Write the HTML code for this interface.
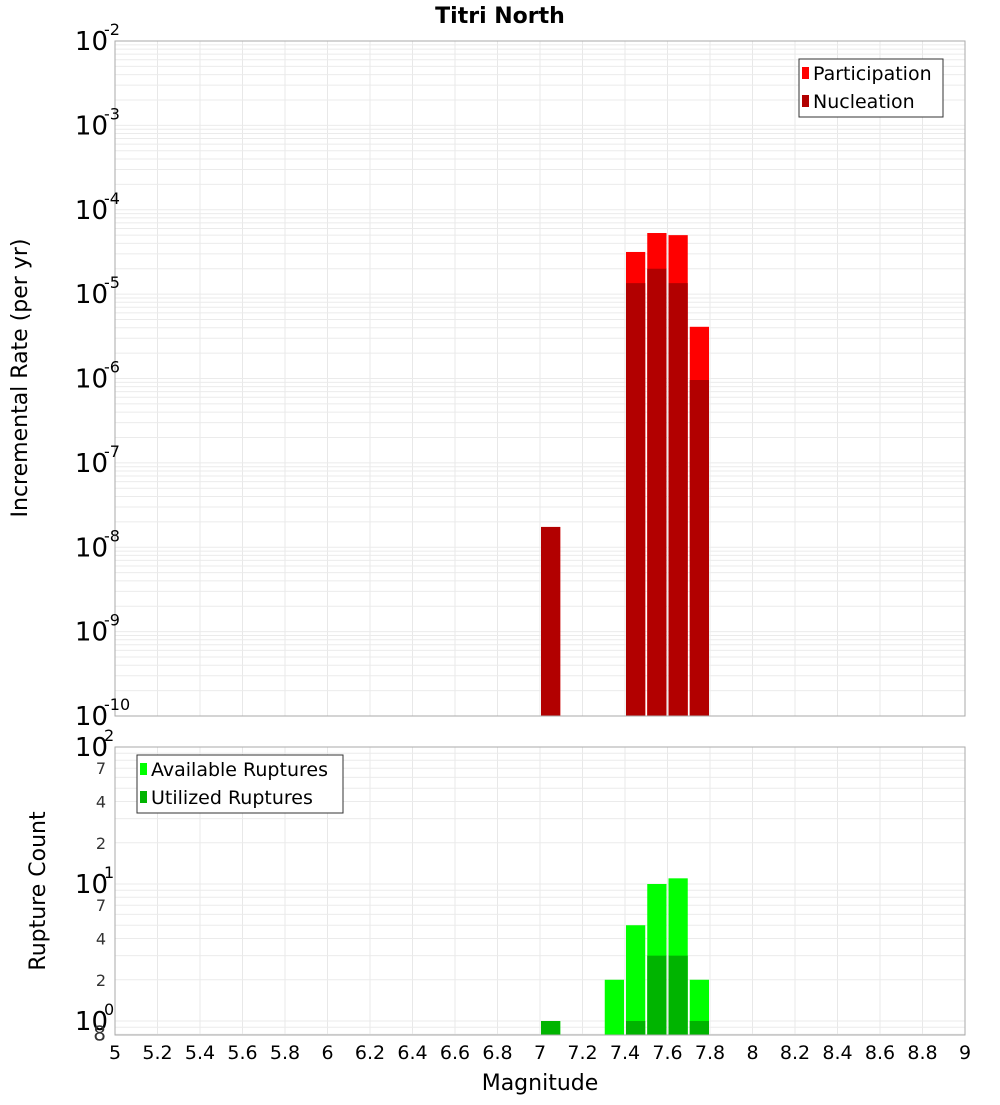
<!DOCTYPE html>
<html><head><meta charset="utf-8"><style>
body{margin:0;background:#fff;font-family:"Liberation Sans","DejaVu Sans",sans-serif}
svg text{font-family:"DejaVu Sans","Liberation Sans",sans-serif}
</style></head><body>
<svg id="c" width="1000" height="1100" xmlns="http://www.w3.org/2000/svg">
<rect width="1000" height="1100" fill="#fff"/>
<text x="500" y="23" text-anchor="middle" font-size="22" font-weight="bold">Titri North</text>
<g id="topPlot"></g>
<g id="botPlot"></g>
<text transform="translate(27,378) rotate(-90)" text-anchor="middle" font-size="22">Incremental Rate (per yr)</text>
<text transform="translate(45,891) rotate(-90)" text-anchor="middle" font-size="22">Rupture Count</text>
<text x="540" y="1090" text-anchor="middle" font-size="22">Magnitude</text>
</svg>
<script>
const rateMags=[7.05,7.45,7.55,7.65,7.75];
const participation=[1.74e-8,3.16e-5,5.3e-5,5.0e-5,4.1e-6];
const nucleation=[1.74e-8,1.35e-5,2.0e-5,1.35e-5,9.6e-7];
const countMags=[7.05,7.35,7.45,7.55,7.65,7.75];
const available=[1,2,5,10,11,2];
const utilized=[1,0,1,3,3,1];
const xTicks=[5,5.2,5.4,5.6,5.8,6,6.2,6.4,6.6,6.8,7,7.2,7.4,7.6,7.8,8,8.2,8.4,8.6,8.8,9];
const NS="http://www.w3.org/2000/svg";
const L=115,R=965;
const X=m=>L+(m-5)/4*(R-L);
const T1=41,B1=716,T2=747,B2=1035;
const Y1=v=>T1+(-2-Math.log10(v))/8*(B1-T1);
const D2=137;
const Y2=v=>T2+(2-Math.log10(v))*D2;
function mk(p,tag,a){const e=document.createElementNS(NS,tag);for(const k in a)e.setAttribute(k,a[k]);p.appendChild(e);return e;}
const gTop=document.getElementById('topPlot'),gBot=document.getElementById('botPlot');
function grid(g,T,B,Y,dmin,dmax,vmin){
  xTicks.forEach(t=>{const l=mk(g,'line',{x1:X(t),x2:X(t),y1:T,y2:B,stroke:'#e8e8e8'});
  
  });
  for(let d=dmin;d<dmax;d++)for(let k=1;k<10;k++){const v=k*Math.pow(10,d);if(v<vmin)continue;const y=Y(v);if(y<T||y>B)continue;
    const l=mk(g,'line',{x1:L,x2:R,y1:y,y2:y,stroke:'#ebebeb'});
    
    }
}
grid(gTop,T1,B1,Y1,-10,-2,1e-10);
grid(gBot,T2,B2,Y2,-1,2,0.8);
const bw=X(0.1)-X(0)-2;
function bars(g,mags,vals,Y,B,col,name){
  mags.forEach((m,i)=>{if(vals[i]<=0)return;const y=Y(vals[i]);
    const r=mk(g,'rect',{x:X(m)-bw/2,y:y,width:bw,height:B-y,fill:col});
    
    });
}
bars(gTop,rateMags,participation,Y1,B1,'#ff0000','participation-bar');
bars(gTop,rateMags,nucleation,Y1,B1,'#b20000','nucleation-bar');
bars(gBot,countMags,available,Y2,B2,'#00ff00','available-bar');
bars(gBot,countMags,utilized,Y2,B2,'#00b400','utilized-bar');
[[gTop,T1,B1],[gBot,T2,B2]].forEach(([g,T,B])=>{const f=mk(g,'rect',{x:L,y:T,width:R-L,height:B-T,fill:'none',stroke:'#aaa'});
  
  });
for(let e=-10;e<=-2;e++){const y=Y1(Math.pow(10,e));
  const t=mk(gTop,'text',{x:108,y:y+9,'text-anchor':'end','font-size':26});
  
  
  t.textContent='10';
  const s=mk(gTop,'text',{x:104,y:y-6,'font-size':16});
  
  
  s.textContent=String(e);}
[0,1,2].forEach(e=>{const y=Y2(Math.pow(10,e));
  const t=mk(gBot,'text',{x:108,y:y+9,'text-anchor':'end','font-size':26});
  
  
  t.textContent='10';
  const s=mk(gBot,'text',{x:104,y:y-6,'font-size':16});
  
  
  s.textContent=String(e);});
[[0.8,'8'],[2,'2'],[4,'4'],[7,'7'],[20,'2'],[40,'4'],[70,'7']].forEach(([v,s])=>{
  const t=mk(gBot,'text',{x:106,y:Y2(v)+6,'text-anchor':'end','font-size':v<1?20:16,fill:'#333'});
  
  
  t.textContent=s;});
xTicks.forEach(t=>{const e=mk(gBot,'text',{x:X(t),y:1059,'text-anchor':'middle','font-size':19});
  
  
  e.textContent=String(t);});
function legend(g,x,y,w,items){
  const b=mk(g,'rect',{x:x,y:y,width:w,height:58,fill:'#fff',stroke:'#333'});
  
  
  items.forEach(([c,l],i)=>{
    const r=mk(g,'rect',{x:x+3,y:y+8+i*28,width:7,height:12,fill:c});
    
    
    const t=mk(g,'text',{x:x+14,y:y+21+i*28,'font-size':19});
    
    
    t.textContent=l;});
}
legend(gTop,799,59,144,[['#ff0000','Participation'],['#b20000','Nucleation']]);
legend(gBot,137,755,206,[['#00ff00','Available Ruptures'],['#00b400','Utilized Ruptures']]);
</script>
</body></html>
